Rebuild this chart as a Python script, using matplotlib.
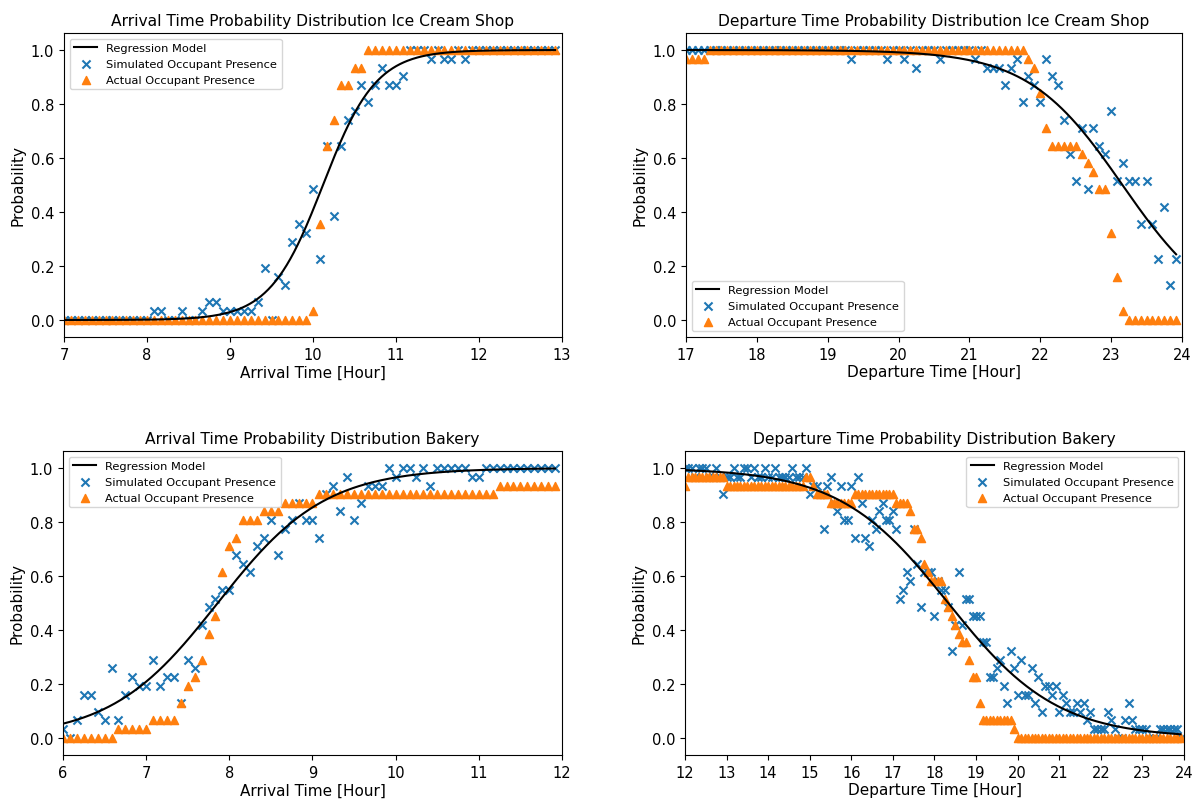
import numpy as np
import matplotlib
matplotlib.use("Agg")
import matplotlib.pyplot as plt

# ---------------- data ----------------
# time grid: 5-minute steps
step_h = 1.0 / 12.0

# Panel 1: Arrival, Ice Cream Shop (7:00 .. 12:55)
ic_arr_start, ic_arr_n = 7.0, 72
ic_arr_sim = [0, 0, 0, 0, 0, 0, 0, 0, 0, 0, 0, 0, 0, 0.032, 0.032, 0, 0, 0.032, 0, 0,
              0.032, 0.065, 0.065, 0.032, 0.032, 0.032, 0.032, 0.032, 0.065, 0.194,
              0, 0.161, 0.129, 0.290, 0.355, 0.323, 0.484, 0.226, 0.645, 0.387,
              0.645, 0.742, 0.774, 0.871, 0.806, 0.871, 0.935, 0.871, 0.871, 0.903,
              1.0, 1.0, 1.0, 0.968, 1.0, 0.968, 0.968, 1.0, 0.968, 1.0,
              1.0, 1.0, 1.0, 1.0, 1.0, 1.0, 1.0, 1.0, 1.0, 1.0, 1.0, 1.0]
ic_arr_act = [0] * 36 + [0.032, 0.355, 0.645, 0.742, 0.871, 0.871, 0.935, 0.935] + [1.0] * 28
ic_arr_reg = (10.12, 0.32)   # centre [h], scale [h] of fitted logistic

# Panel 2: Departure, Ice Cream Shop (17:00 .. 23:55)
ic_dep_start, ic_dep_n = 17.0, 84
ic_dep_sim = ([1.0] * 28 + [0.968] + [1.0] * 5 + [0.968] + [1.0] * 2 + [0.968] + [1.0] + [0.935]
              + [1.0] * 3 + [0.968] + [1.0] * 5 + [0.968] + [1.0]
              + [0.935, 0.935, 0.935, 0.871, 0.935, 0.968, 0.806, 0.903, 0.871, 0.806,
                 0.968, 0.903, 0.871, 0.742, 0.613, 0.516, 0.710, 0.484, 0.710, 0.645,
                 0.613, 0.774, 0.516, 0.581, 0.516, 0.516, 0.355, 0.516, 0.355, 0.226,
                 0.419, 0.129, 0.226])
ic_dep_act = ([0.968] * 4 + [1.0] * 54
              + [0.968, 0.935, 0.839, 0.710, 0.645, 0.645, 0.645, 0.645, 0.645,
                 0.613, 0.581, 0.548, 0.484, 0.484, 0.323, 0.161, 0.032] + [0] * 9)
ic_dep_reg = (23.16, 0.667)

# Panel 3: Arrival, Bakery (6:00 .. 11:55)
bk_arr_start, bk_arr_n = 6.0, 72
bk_arr_sim = [0.032, 0.0, 0.065, 0.161, 0.161, 0.097, 0.065, 0.258, 0.065, 0.161,
              0.226, 0.194, 0.194, 0.290, 0.194, 0.226, 0.226, 0.129, 0.290, 0.258,
              0.419, 0.484, 0.516, 0.548, 0.548, 0.677, 0.645, 0.613, 0.710, 0.742,
              0.806, 0.677, 0.774, 0.806, 0.871, 0.806, 0.806, 0.742, 0.903, 0.935,
              0.839, 0.968, 0.806, 0.871, 0.935, 0.935, 0.935, 1.0, 0.968, 1.0,
              1.0, 0.968, 1.0, 0.935, 1.0, 1.0, 1.0, 1.0, 1.0, 0.968,
              0.968, 1.0, 1.0, 1.0, 1.0, 1.0, 1.0, 1.0, 1.0, 1.0, 1.0, 1.0]
bk_arr_act = ([0] * 8 + [0.032] * 5 + [0.065] * 4
              + [0.129, 0.194, 0.226, 0.290, 0.387, 0.452, 0.613, 0.710, 0.742]
              + [0.806] * 3 + [0.839] * 3 + [0.871] * 5 + [0.903] * 26 + [0.935] * 9)
bk_arr_reg = (7.86, 0.645)

# Panel 4: Departure, Bakery (12:00 .. 23:55)
bk_dep_start, bk_dep_n = 12.0, 144
bk_dep_sim = [1.0, 1.0, 1.0, 0.968, 1.0, 1.0, 1.0, 0.968, 0.968, 1.0,
              0.968, 0.903, 0.968, 0.968, 1.0, 0.968, 0.968, 1.0, 1.0, 0.968,
              1.0, 0.968, 0.968, 1.0, 0.968, 0.968, 1.0, 0.968, 0.968, 0.968,
              0.968, 1.0, 0.968, 0.968, 0.968, 1.0, 0.903, 0.935, 0.935, 0.903,
              0.774, 0.935, 0.968, 0.871, 0.839, 0.935, 0.806, 0.806, 0.935, 0.742,
              0.968, 0.871, 0.742, 0.710, 0.806, 0.774, 0.839, 0.871, 0.806, 0.806,
              0.839, 0.774, 0.516, 0.548, 0.613, 0.581, 0.774, 0.645, 0.484, 0.613,
              0.613, 0.613, 0.452, 0.581, 0.548, 0.548, 0.484, 0.323, 0.419, 0.613,
              0.419, 0.516, 0.516, 0.452, 0.452, 0.452, 0.355, 0.355, 0.226, 0.226,
              0.258, 0.290, 0.194, 0.129, 0.323, 0.258, 0.161, 0.290, 0.161, 0.161,
              0.258, 0.129, 0.226, 0.097, 0.194, 0.194, 0.161, 0.194, 0.097, 0.161,
              0.129, 0.097, 0.097, 0.129, 0.097, 0.129, 0.065, 0.097, 0.032, 0.032,
              0.032, 0.032, 0.097, 0.065, 0.032, 0.0, 0.0, 0.065, 0.129, 0.065,
              0.032, 0.032, 0.032, 0.032, 0.0, 0.0, 0.0, 0.032, 0.032, 0.032,
              0.032, 0.032, 0.032, 0.0]
bk_dep_act = ([0.935] + [0.968] * 11 + [0.935] * 23 + [0.968] * 2 + [0.935]
              + [0.903] * 4 + [0.871] * 7 + [0.903] * 12 + [0.871] * 4 + [0.839]
              + [0.774] * 2 + [0.742, 0.645, 0.613] + [0.581] * 4
              + [0.516, 0.484, 0.452, 0.419, 0.387, 0.355, 0.355, 0.290, 0.226, 0.226, 0.129]
              + [0.065] * 9 + [0.032] + [0] * 48)
bk_dep_reg = (18.33, 1.31)

titles = ["Arrival Time Probability Distribution Ice Cream Shop",
          "Departure Time Probability Distribution Ice Cream Shop",
          "Arrival Time Probability Distribution Bakery",
          "Departure Time Probability Distribution Bakery"]
xlabels = ["Arrival Time [Hour]", "Departure Time [Hour]",
           "Arrival Time [Hour]", "Departure Time [Hour]"]
xticks = [list(range(7, 14)), list(range(17, 25)), list(range(6, 13)), list(range(12, 25))]
legend_labels = ["Regression Model", "Simulated Occupant Presence", "Actual Occupant Presence"]

# ---------------- figure ----------------
W, H = 1199, 804
fig = plt.figure(figsize=(W / 100, H / 100), dpi=100)
plt.rcParams['font.family'] = ['DejaVu Sans']


def add_ax(l, r, t, b):
    return fig.add_axes([l / W, 1 - b / H, (r - l) / W, (b - t) / H])


panels = [
    dict(box=(64, 562, 34, 338), xlim=(7, 13), start=ic_arr_start, n=ic_arr_n,
         sim=ic_arr_sim, act=ic_arr_act, reg=ic_arr_reg, rising=True, loc="upper left"),
    dict(box=(686, 1182, 34, 338), xlim=(17, 24), start=ic_dep_start, n=ic_dep_n,
         sim=ic_dep_sim, act=ic_dep_act, reg=ic_dep_reg, rising=False, loc="lower left"),
    dict(box=(63, 562, 452, 756), xlim=(6, 12), start=bk_arr_start, n=bk_arr_n,
         sim=bk_arr_sim, act=bk_arr_act, reg=bk_arr_reg, rising=True, loc="upper left"),
    dict(box=(685, 1184, 452, 756), xlim=(12, 24), start=bk_dep_start, n=bk_dep_n,
         sim=bk_dep_sim, act=bk_dep_act, reg=bk_dep_reg, rising=False, loc="upper right"),
]

for i, p in enumerate(panels):
    ax = add_ax(*p["box"])
    x = p["start"] + step_h * np.arange(p["n"])
    xs = np.linspace(x[0], x[-1], 400)
    c, s = p["reg"]
    z = (xs - c) / s
    yreg = 1 / (1 + np.exp(-z)) if p["rising"] else 1 / (1 + np.exp(z))
    ax.plot(xs, yreg, color="black", lw=1.5, label=legend_labels[0])
    ax.scatter(x, p["sim"], marker="x", s=34, color="#1f77b4", linewidths=1.5,
               label=legend_labels[1])
    ax.scatter(x, p["act"], marker="^", s=34, color="#ff7f0e", label=legend_labels[2])
    ax.set_xlim(*p["xlim"])
    ax.set_xticks(xticks[i])
    ax.set_ylim(-0.063, 1.063)
    ax.set_yticks([0.0, 0.2, 0.4, 0.6, 0.8, 1.0])
    ax.set_title(titles[i], fontsize=11.2, pad=6)
    ax.set_xlabel(xlabels[i], fontsize=11, labelpad=2)
    ax.set_ylabel("Probability", fontsize=11, labelpad=4)
    ax.tick_params(labelsize=10.5)
    ax.legend(loc=p["loc"], fontsize=8.2)

fig.savefig("out.png", dpi=100)
